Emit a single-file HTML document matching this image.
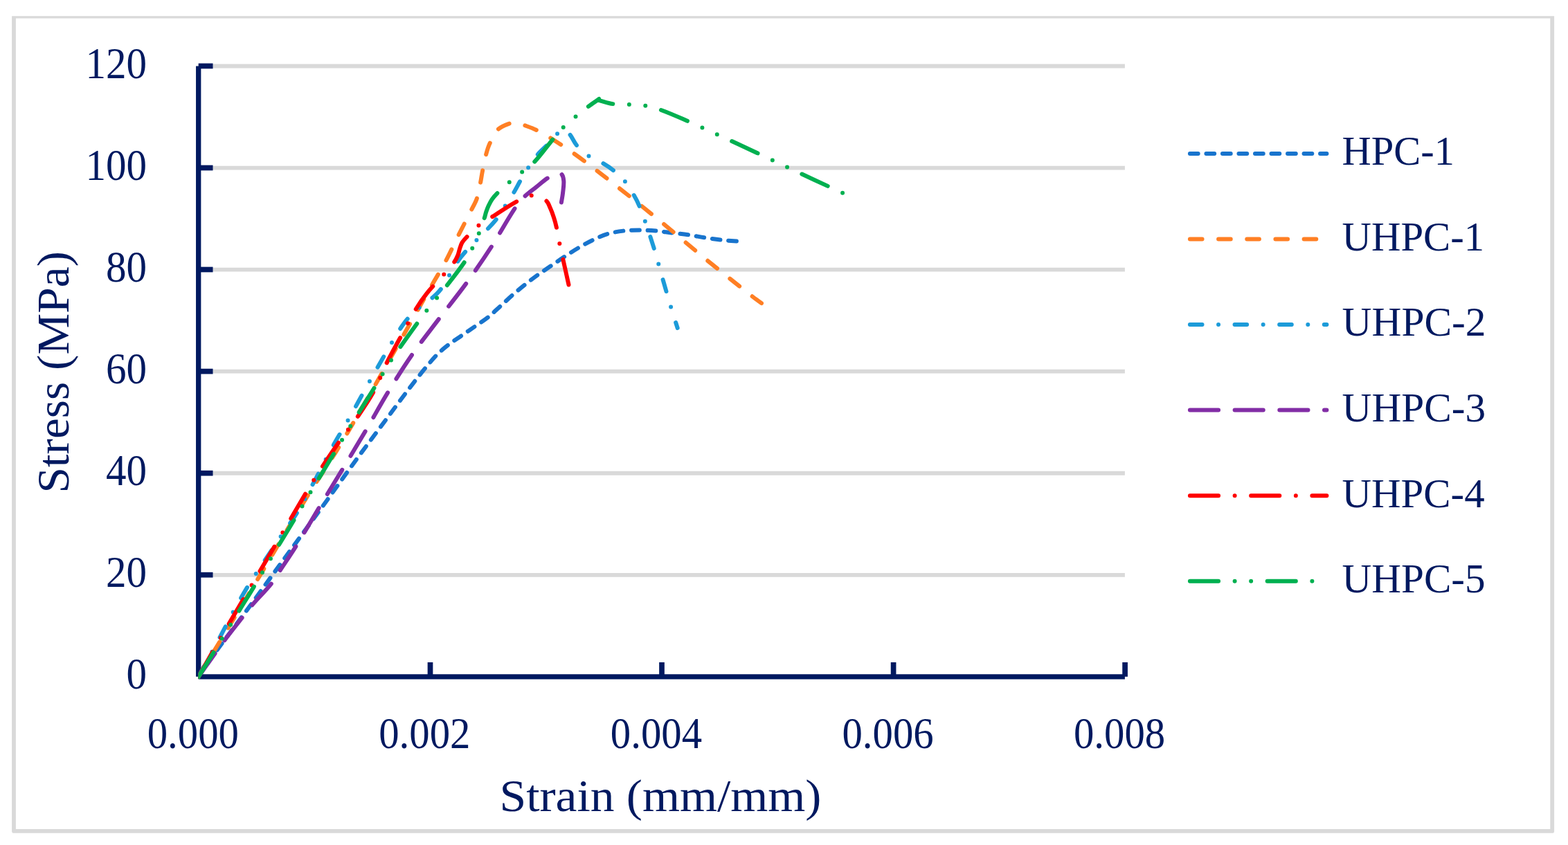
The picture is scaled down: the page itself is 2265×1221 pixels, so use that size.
<!DOCTYPE html>
<html lang="en"><head><meta charset="utf-8"><title>Stress-strain curves</title>
<style>html,body{margin:0;padding:0;background:#fff}body{width:2265px;height:1221px;overflow:hidden}svg{display:block}text{font-family:"Liberation Serif",serif;fill:#001960}</style></head><body>
<svg width="2265" height="1221" viewBox="0 0 2265 1221">
<rect width="2265" height="1221" fill="#fff"/>
<clipPath id="crop"><rect x="0" y="23.3" width="2265" height="1221"/></clipPath>
<rect x="20" y="23.7" width="2222.2" height="1177.2" fill="none" stroke="#d9d9d9" stroke-width="5.8" stroke-linejoin="round" clip-path="url(#crop)"/>
<g stroke="#d9d9d9" stroke-width="5.8" fill="none">
<line x1="286.7" y1="830.83" x2="1624.9" y2="830.83"/>
<line x1="286.7" y1="683.77" x2="1624.9" y2="683.77"/>
<line x1="286.7" y1="536.70" x2="1624.9" y2="536.70"/>
<line x1="286.7" y1="389.63" x2="1624.9" y2="389.63"/>
<line x1="286.7" y1="242.57" x2="1624.9" y2="242.57"/>
<line x1="286.7" y1="95.50" x2="1624.9" y2="95.50"/>
</g>
<g stroke="#001960" fill="none" stroke-width="7.3">
<line x1="286.7" y1="95.4" x2="286.7" y2="977.8"/>
<line x1="286.7" y1="977.8" x2="1624.9" y2="977.8"/>
</g>
<g stroke="#001960" fill="none" stroke-width="7.7">
<line x1="286.7" y1="830.7" x2="307.5" y2="830.7"/>
<line x1="286.7" y1="683.7" x2="307.5" y2="683.7"/>
<line x1="286.7" y1="536.6" x2="307.5" y2="536.6"/>
<line x1="286.7" y1="389.5" x2="307.5" y2="389.5"/>
<line x1="286.7" y1="242.5" x2="307.5" y2="242.5"/>
<line x1="286.7" y1="95.4" x2="307.5" y2="95.4"/>
<line x1="621.5" y1="977.8" x2="621.5" y2="957"/>
<line x1="956" y1="977.8" x2="956" y2="957"/>
<line x1="1290.6" y1="977.8" x2="1290.6" y2="957"/>
<line x1="1625.1" y1="977.8" x2="1625.1" y2="957"/>
</g>
<clipPath id="plot"><rect x="286.3" y="60" width="1400" height="921.3"/></clipPath>
<g fill="none" stroke-width="6" stroke-linecap="round" stroke-linejoin="round" clip-path="url(#plot)">
<path d="M286.7 977.8C295.8 964.8 304.7 951.6 314 938.8C327.7 919.9 342 901.4 355.9 882.6C367.6 866.8 379 850.8 390.6 834.9C404.4 815.9 418.3 797 432.1 778C445.9 759.1 459.7 740.3 473.4 721.4C487.3 702.3 500.9 683 514.8 663.9C528.8 644.8 543 625.9 557.1 607C571 588.3 584.7 569.5 599 551.1C608.7 538.6 618.6 526.2 629.3 514.5C634.7 508.6 641 503.6 647.3 498.6C653.3 493.9 659.8 489.8 666.1 485.4C672.6 480.9 679.1 476.5 685.6 472C692.1 467.5 698.9 463.2 705.1 458.3C711.3 453.4 716.9 447.7 722.8 442.4C728.6 437.1 734.2 431.7 740.1 426.5C746 421.4 752 416.4 758.1 411.5C764.2 406.6 770.4 401.9 776.7 397.3C782.8 392.9 789.1 388.8 795.3 384.6C802.1 380 808.8 375.3 815.6 370.8C822 366.6 828.5 362.3 835.1 358.4C842 354.3 849.1 350.4 856.3 346.9C863.2 343.6 870.2 340.2 877.6 338C885.1 335.8 892.8 334.5 900.6 333.6C908.5 332.7 916.5 332.5 924.4 332.5C932.1 332.5 939.8 333 947.4 333.6C955.1 334.3 962.7 335.5 970.4 336.4C978.6 337.4 986.9 338.3 995.1 339.5C1002.8 340.6 1010.4 342.2 1018.1 343.4C1025.7 344.6 1033.4 345.7 1041.1 346.6C1049 347.5 1057 348 1065 348.7" stroke="#1874cd" stroke-dasharray="11.76 11.76"/>
<path d="M286.7 977.8C315.1 931 343.7 884.2 372 837.3C396 797.5 419.3 757.4 443.6 717.8C458.2 694 474.3 671 488.8 647.1C507.3 616.8 524.8 585.9 542.6 555.2C556.2 531.6 569.5 507.7 583 484C596.6 460.1 610.1 436.2 623.7 412.3C630.4 400.5 637.6 389 644 377C650.4 365 656 352.5 662.1 340.3C668.3 328 674.6 315.8 680.8 303.5C683.5 298.1 686.8 292.9 688.7 287.2C691.2 279.7 692.4 271.9 694 264.2C695.2 258.3 695.9 252.4 697.1 246.5C698.6 239 699.9 231.4 701.9 224C703.4 218.2 705 212.4 707.6 207C710.9 200.1 713.9 192.7 719.3 187.2C723.5 182.9 729.6 180.8 735.2 178.7C738.6 177.5 742.4 177.1 746 177.5C750 177.9 753.8 179.6 757.6 181C763.3 183.1 769 185.1 774.5 187.8C781.5 191.2 788.2 195 794.8 199.1C806.4 206.3 817.8 213.8 828.9 221.7C840.2 229.6 851 238.1 862 246.5C872.9 254.8 883.6 263.3 894.4 271.8C905.3 280.4 916.2 289.1 927 297.8C937.5 306.3 948 314.8 958.4 323.4C968.9 332.1 979.3 341 989.8 349.8C1000.4 358.7 1011 367.5 1021.7 376.3C1032.2 384.9 1042.9 393.5 1053.5 402C1064.4 410.7 1075.3 419.4 1086.3 428C1090.8 431.5 1095.4 434.7 1100 438.1" stroke="#ff7f24" stroke-dasharray="17.65 23.53"/>
<path d="M286.7 977.8C297 958.8 307.4 939.9 317.6 920.9C324.1 908.8 330.2 896.5 336.8 884.4C343.4 872.3 350.1 860.3 357.2 848.5C361.2 841.8 365.6 835.4 369.9 828.9C381.7 811 393.6 793.1 405.6 775.3C413.2 764 421.5 753.3 428.6 741.7C436.9 728.2 444.1 714 451.6 700.1C461.9 681.1 471.5 661.7 481.9 642.8C488.5 630.7 496 619.2 502.8 607.2C513.4 588.5 523.5 569.5 534.1 550.8C544.7 532 555.4 513.2 566.3 494.5C570.3 487.7 574.2 480.9 578.6 474.3C581.9 469.4 585.2 464.5 589.2 460.1C594.4 454.4 600.1 449.2 606 444.2C612 439.1 618.9 435.1 624.9 430C629.3 426.2 633.5 422.2 637 417.6C641.7 411.3 645.2 404.1 649.3 397.3C653.4 390.5 657.2 383.5 661.7 377C664.9 372.3 668.5 367.9 672.3 363.7C677.5 357.8 683.1 352.3 688.6 346.7C694 341.1 699.7 335.8 705.1 330.1C709.2 325.8 713.4 321.5 717 316.7C721.8 310.4 725.9 303.5 730.2 296.9C734.4 290.5 738.6 284.1 742.6 277.5C745.6 272.5 748.2 267.2 751.1 262.1C755.1 255.3 759 248.5 763.3 241.9C767.6 235.4 772 228.9 777 222.9C781.1 218 786.2 214 790.6 209.3C795.7 204 800 197.9 805.4 192.9C808 190.5 811 187.1 814.5 187.4C818.2 187.7 820.8 191.5 823.1 194.3C827.1 199.2 829.1 205.5 833.2 210.2C838.2 215.9 844 221 850.3 225.3C856.7 229.6 864.2 232 870.9 235.9C876.1 239 881.2 242.3 885.9 246.1C891.9 251 897.8 256.1 902.7 262.1C907.7 268.2 911.6 275.1 915.6 281.9C918.6 287 921.3 292.3 923.6 297.8C926.7 305 929.3 312.3 931.8 319.7C936.4 332.9 940.8 346.1 944.9 359.4C949.4 374.2 953.3 389.2 957.6 404.1C961.4 417.3 965.1 430.5 969.1 443.6C972.2 453.8 975.5 463.9 978.7 474" stroke="#1c9bd9" stroke-dasharray="17.63 23.50 0.00 23.50"/>
<path d="M286.7 977.8C299.3 960.3 311.6 942.5 324.4 925.2C332.6 914.1 341.3 903.4 349.8 892.5C354.7 886.3 359.4 879.9 364.6 873.9C373.4 863.6 383.3 854.2 391.8 843.6C396.7 837.5 400.4 830.5 404.7 824C412.3 812.5 420.1 801.2 427.4 789.5C438.8 771.1 449.6 752.3 460.8 733.8C471.9 715.4 483.2 697 494.4 678.6C505.6 660.1 516.9 641.6 527.9 622.9C538.9 604.4 549.1 585.4 560.3 567C571.5 548.6 582.8 530.4 595.1 512.7C607.4 495 620.9 478.2 633.9 461C647 443.7 660.8 426.9 673.6 409.3C686.1 392.1 698.2 374.5 709.8 356.6C721.5 338.5 731.6 319.3 743.5 301.3C747.7 294.9 752.8 289 758.2 283.6C763.2 278.7 769 274.8 774.5 270.4C779.9 266.1 785 261.5 790.7 257.6C795 254.6 799.4 251.4 804.5 250C806.8 249.4 809.8 250 811.3 251.8C813.5 254.4 814.1 258.1 814.3 261.5C814.7 267.4 813.6 273.3 813 279.2C812.5 283.7 811.6 288.1 810.9 292.5" stroke="#822da6" stroke-dasharray="41.17 23.53"/>
<path d="M286.7 977.8C297.4 959 308 940.2 318.9 921.5C333.7 896.1 348.7 870.8 363.6 845.5C378.6 820 393.6 794.6 408.6 769.1C423.5 743.9 437.9 718.3 453.4 693.4C464.7 675.1 476.8 657.3 489 639.6C497.9 626.7 508 614.6 516.9 601.7C525.1 589.7 533.4 577.7 540.3 564.9C547.4 551.7 552.3 537.4 558.9 523.9C564.8 511.8 571.6 500.1 578 488.3C585.5 474.4 592.6 460.3 600.7 446.8C605.5 438.8 610.7 431.1 616.6 423.8C624.3 414.3 633.1 405.8 641.2 396.6C646.3 390.8 651.5 385 656.1 378.7C658.3 375.7 659.9 372.4 661.3 369C662.7 365.6 663.2 361.9 664.4 358.4C665.3 355.7 666.1 352.8 667.6 350.4C669.5 347.3 672.1 344.7 674.6 342.1C680 336.5 685.3 330.6 691.4 325.8C697.4 321 704.3 317.5 710.8 313.4C722.5 306 733.9 297.9 746.1 291.3C752.9 287.6 759.9 282.7 767.7 282.4C775.1 282.1 782.5 285.7 788.6 289.8C792 292.1 793.1 296.8 794.8 300.5C796.9 305.1 798.6 309.8 800.1 314.6C801.6 319.1 802.8 323.7 803.8 328.3C805.5 335.9 806.6 343.7 808.2 351.3C809.7 358.7 811.4 366 813 373.4C815.8 386.1 818.7 398.8 821.5 411.5" stroke="#ff0000" stroke-dasharray="41.17 23.53 0.00 23.53"/>
<path d="M286.7 977.8C298 959.5 309.4 941.1 320.7 922.8C329 909.4 337.2 896 345.4 882.6C352.6 870.8 360 859.1 367.1 847.3C375.1 834 382.9 820.5 390.9 807.2C402 788.7 413.4 770.3 424.5 751.8C432.5 738.4 440.4 724.9 448.4 711.5C459.4 693.1 470.6 674.7 481.7 656.3C489.9 642.8 497.9 629.2 506.2 615.7C517.5 597.4 529 579.3 540.3 561C548.6 547.6 556.3 533.9 564.9 520.7C574 506.8 583.8 493.5 593.4 480C600.9 469.5 608.4 459 616.3 448.8C625.9 436.4 636.2 424.6 645.8 412.3C654.3 401.5 662.8 390.7 670.6 379.3C675 372.8 678.7 365.9 682.2 358.9C685.8 351.9 688.9 344.6 691.8 337.3C694.7 330.1 697.1 322.8 699.6 315.5C700.6 312.5 701.2 309.3 702.2 306.3C703.3 303.2 704.4 300.1 705.8 297.1C707.3 294 708.8 290.8 710.8 288C713.1 284.7 715.8 281.7 718.6 278.9C724.1 273.5 729.8 268.3 735.7 263.3C741.7 258.2 748 253.5 754.1 248.6C760.2 243.6 766.9 239.3 772.3 233.6C781.7 223.6 789.5 212.2 798.3 201.7C803.3 195.7 808.1 189.5 813.6 184C819.2 178.4 825.5 173.6 831.6 168.5C837.5 163.6 843.5 158.7 849.6 154.1C854.7 150.2 860.1 146.7 865.3 143C865.5 143.7 865.6 144.4 865.8 145.1C872.2 146.8 878.5 149.2 885.1 150.1C892.8 151.2 900.6 150.6 908.3 151C916.1 151.4 924 151.3 931.7 152.6C939.2 153.9 946.6 156 953.8 158.6C966.9 163.3 979.6 169 992.3 174.5C1006.7 180.8 1020.9 187.5 1035.2 194C1054.9 203 1074.5 212 1094.1 221.2C1115.4 231.1 1136.5 241.4 1157.8 251.3C1178.2 260.9 1198.7 270.2 1219.2 279.7" stroke="#00b050" stroke-dasharray="41.17 23.53 0.00 23.53 0.00 23.53"/>
</g>
<g font-size="62.5" text-anchor="end">
<text x="212" y="995" textLength="29.5" lengthAdjust="spacingAndGlyphs">0</text>
<text x="212" y="847.9" textLength="59" lengthAdjust="spacingAndGlyphs">20</text>
<text x="212" y="700.9" textLength="59" lengthAdjust="spacingAndGlyphs">40</text>
<text x="212" y="553.8" textLength="59" lengthAdjust="spacingAndGlyphs">60</text>
<text x="212" y="406.7" textLength="59" lengthAdjust="spacingAndGlyphs">80</text>
<text x="212" y="259.7" textLength="88.5" lengthAdjust="spacingAndGlyphs">100</text>
<text x="212" y="112.6" textLength="88.5" lengthAdjust="spacingAndGlyphs">120</text>
</g>
<g font-size="62.5">
<text x="212.7" y="1080.5" textLength="132.3" lengthAdjust="spacingAndGlyphs">0.000</text>
<text x="547.2" y="1080.5" textLength="132.3" lengthAdjust="spacingAndGlyphs">0.002</text>
<text x="881.8" y="1080.5" textLength="132.3" lengthAdjust="spacingAndGlyphs">0.004</text>
<text x="1216.4" y="1080.5" textLength="132.3" lengthAdjust="spacingAndGlyphs">0.006</text>
<text x="1550.9" y="1080.5" textLength="132.3" lengthAdjust="spacingAndGlyphs">0.008</text>
</g>
<text x="721.5" y="1171.5" font-size="66" textLength="465" lengthAdjust="spacingAndGlyphs">Strain (mm/mm)</text>
<text transform="translate(98.6 712.6) rotate(-90)" font-size="66" textLength="349.5" lengthAdjust="spacingAndGlyphs">Stress (MPa)</text>
<g fill="none" stroke-width="6" stroke-linecap="round">
<line x1="1718.9" y1="221.9" x2="1916.4" y2="221.9" stroke="#1874cd" stroke-dasharray="11.76 11.76"/>
<line x1="1718.9" y1="345.4" x2="1916.4" y2="345.4" stroke="#ff7f24" stroke-dasharray="17.65 23.53"/>
<line x1="1718.9" y1="469" x2="1916.4" y2="469" stroke="#1c9bd9" stroke-dasharray="17.63 23.50 0.00 23.50"/>
<line x1="1718.9" y1="592.5" x2="1916.4" y2="592.5" stroke="#822da6" stroke-dasharray="41.17 23.53"/>
<line x1="1718.9" y1="716.2" x2="1916.4" y2="716.2" stroke="#ff0000" stroke-dasharray="41.17 23.53 0.00 23.53"/>
<line x1="1718.9" y1="839.8" x2="1916.4" y2="839.8" stroke="#00b050" stroke-dasharray="41.17 23.53 0.00 23.53 0.00 23.53"/>
</g>
<g font-size="58.8">
<text x="1938.6" y="238.3" textLength="162.4" lengthAdjust="spacingAndGlyphs">HPC-1</text>
<text x="1938.6" y="361.8" textLength="205.6" lengthAdjust="spacingAndGlyphs">UHPC-1</text>
<text x="1938.6" y="485.4" textLength="208" lengthAdjust="spacingAndGlyphs">UHPC-2</text>
<text x="1938.6" y="608.9" textLength="207.5" lengthAdjust="spacingAndGlyphs">UHPC-3</text>
<text x="1938.6" y="732.6" textLength="206" lengthAdjust="spacingAndGlyphs">UHPC-4</text>
<text x="1938.6" y="856.2" textLength="207" lengthAdjust="spacingAndGlyphs">UHPC-5</text>
</g>
</svg></body></html>
